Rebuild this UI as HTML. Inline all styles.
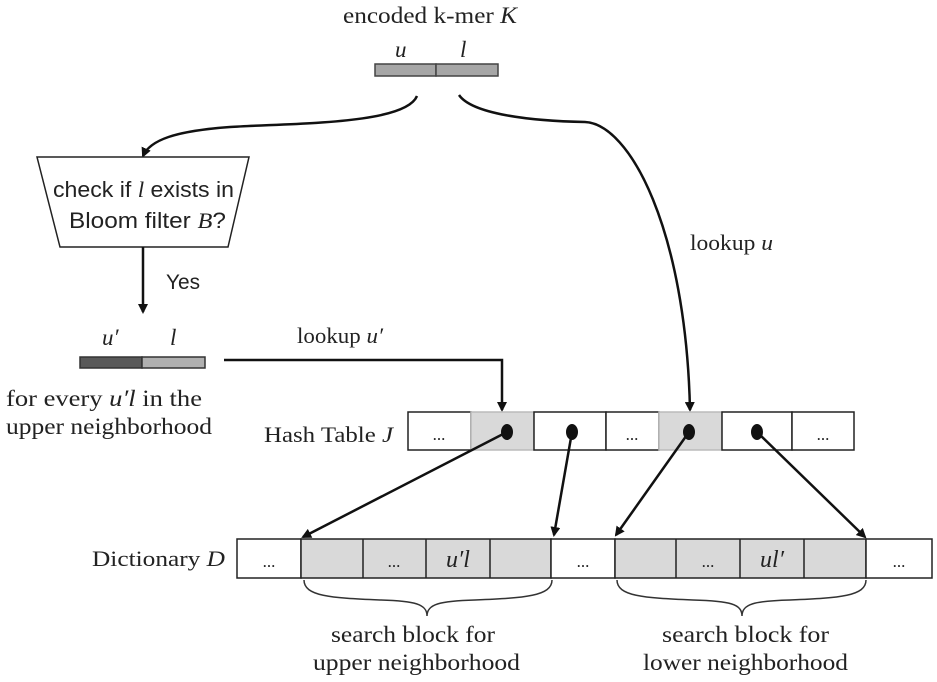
<!DOCTYPE html>
<html><head><meta charset="utf-8"><style>
html,body{margin:0;padding:0;background:#fff;}
svg{display:block;}
text{font-family:"Liberation Serif",serif;fill:#222;}
.s{font-family:"Liberation Sans",sans-serif;}
</style></head><body>
<svg width="937" height="682" viewBox="0 0 937 682" xmlns="http://www.w3.org/2000/svg">
<defs>
<marker id="a" markerWidth="10" markerHeight="10" refX="8" refY="5" orient="auto" markerUnits="userSpaceOnUse">
<path d="M0,0 L10,5 L0,10 Z" fill="#111"/></marker>
</defs>
<!-- top -->
<text x="343" y="23" font-size="23" textLength="174" lengthAdjust="spacingAndGlyphs">encoded k-mer <tspan font-style="italic">K</tspan></text>
<text x="395" y="57" font-size="23" font-style="italic">u</text>
<text x="460" y="57" font-size="23" font-style="italic">l</text>
<rect x="375" y="64" width="61" height="12" fill="#a6a6a6" stroke="#444" stroke-width="1.5"/>
<rect x="436" y="64" width="62" height="12" fill="#a6a6a6" stroke="#444" stroke-width="1.5"/>
<!-- left curve -->
<path d="M417,96 C405,125 290,123 230,127 C175,131 150,140 143,156" fill="none" stroke="#111" stroke-width="2.5" marker-end="url(#a)"/>
<!-- right curve -->
<path d="M459,95 C472,114 530,121 585,122 C630,124 686,230 690,410" fill="none" stroke="#111" stroke-width="2.5" marker-end="url(#a)"/>
<text x="690" y="250" font-size="22" textLength="83" lengthAdjust="spacingAndGlyphs">lookup <tspan font-style="italic">u</tspan></text>
<!-- trapezoid -->
<polygon points="37,157 249,157 228,247 60,247" fill="#fff" stroke="#222" stroke-width="1.5"/>
<text class="s" x="53" y="197" font-size="22" textLength="181" lengthAdjust="spacingAndGlyphs">check if <tspan font-family="Liberation Serif" font-style="italic">l</tspan> exists in</text>
<text class="s" x="69" y="228" font-size="22" textLength="157" lengthAdjust="spacingAndGlyphs">Bloom filter <tspan font-family="Liberation Serif" font-style="italic">B</tspan>?</text>
<line x1="143" y1="247" x2="143" y2="312" stroke="#111" stroke-width="2.5" marker-end="url(#a)"/>
<text class="s" x="166" y="289" font-size="21" textLength="34" lengthAdjust="spacingAndGlyphs">Yes</text>
<!-- second bar -->
<text x="102" y="345" font-size="23" font-style="italic">u′</text>
<text x="170" y="345" font-size="23" font-style="italic">l</text>
<rect x="80" y="357" width="62" height="11" fill="#595959" stroke="#333" stroke-width="1.5"/>
<rect x="142" y="357" width="63" height="11" fill="#b0b0b0" stroke="#333" stroke-width="1.5"/>
<text x="6" y="406" font-size="23" textLength="196" lengthAdjust="spacingAndGlyphs">for every <tspan font-style="italic">u′l</tspan> in the</text>
<text x="6" y="434" font-size="23" textLength="206" lengthAdjust="spacingAndGlyphs">upper neighborhood</text>
<path d="M224,360 L502,360 L502,410" fill="none" stroke="#111" stroke-width="2.5" marker-end="url(#a)"/>
<text x="297" y="343" font-size="22" textLength="86" lengthAdjust="spacingAndGlyphs">lookup <tspan font-style="italic">u′</tspan></text>
<!-- hash table -->
<text x="264" y="442" font-size="22" textLength="129" lengthAdjust="spacingAndGlyphs">Hash Table <tspan font-style="italic">J</tspan></text>
<g stroke="#222" stroke-width="1.5">
<rect x="408" y="412" width="63" height="38" fill="#fff"/>
<rect x="471" y="412" width="63" height="38" fill="#d9d9d9" stroke="#bbb"/>
<rect x="534" y="412" width="72" height="38" fill="#fff"/>
<rect x="606" y="412" width="53" height="38" fill="#fff"/>
<rect x="659" y="412" width="63" height="38" fill="#d9d9d9" stroke="#bbb"/>
<rect x="722" y="412" width="70" height="38" fill="#fff"/>
<rect x="792" y="412" width="62" height="38" fill="#fff"/>
</g>
<text x="439" y="440" font-size="17" text-anchor="middle">...</text>
<text x="632" y="440" font-size="17" text-anchor="middle">...</text>
<text x="823" y="440" font-size="17" text-anchor="middle">...</text>
<g fill="#111">
<ellipse cx="507" cy="432" rx="6" ry="8"/>
<ellipse cx="572" cy="432" rx="6" ry="8"/>
<ellipse cx="689" cy="432" rx="6" ry="8"/>
<ellipse cx="757" cy="432" rx="6" ry="8"/>
</g>
<g stroke="#111" stroke-width="2.5" marker-end="url(#a)">
<line x1="507" y1="432" x2="303" y2="537"/>
<line x1="572" y1="432" x2="554" y2="535"/>
<line x1="689" y1="432" x2="616" y2="535"/>
<line x1="757" y1="432" x2="865" y2="537"/>
</g>
<!-- dictionary -->
<text x="92" y="566" font-size="22" textLength="133" lengthAdjust="spacingAndGlyphs">Dictionary <tspan font-style="italic">D</tspan></text>
<g stroke="#222" stroke-width="1.5">
<rect x="237" y="539" width="64" height="39" fill="#fff"/>
<rect x="301" y="539" width="250" height="39" fill="#d9d9d9"/>
<line x1="363" y1="539" x2="363" y2="578"/>
<line x1="426" y1="539" x2="426" y2="578"/>
<line x1="490" y1="539" x2="490" y2="578"/>
<rect x="551" y="539" width="64" height="39" fill="#fff"/>
<rect x="615" y="539" width="251" height="39" fill="#d9d9d9"/>
<line x1="676" y1="539" x2="676" y2="578"/>
<line x1="740" y1="539" x2="740" y2="578"/>
<line x1="804" y1="539" x2="804" y2="578"/>
<rect x="866" y="539" width="66" height="39" fill="#fff"/>
</g>
<text x="269" y="567" font-size="17" text-anchor="middle">...</text>
<text x="394" y="567" font-size="17" text-anchor="middle">...</text>
<text x="583" y="567" font-size="17" text-anchor="middle">...</text>
<text x="708" y="567" font-size="17" text-anchor="middle">...</text>
<text x="899" y="567" font-size="17" text-anchor="middle">...</text>
<text x="458" y="567" font-size="24" font-style="italic" text-anchor="middle" fill="#555">u′l</text>
<text x="772" y="567" font-size="24" font-style="italic" text-anchor="middle" fill="#555">ul′</text>
<!-- braces -->
<g fill="none" stroke="#333" stroke-width="1.5">
<path d="M304,580 C304,596 330,598 380,600 C415,601 427,604 427,616 C427,604 440,601 475,600 C525,598 552,596 552,580"/>
<path d="M617,580 C617,596 643,598 693,600 C730,601 742,604 742,616 C742,604 754,601 790,600 C840,598 866,596 866,580"/>
</g>
<text x="331" y="642" font-size="23" textLength="164" lengthAdjust="spacingAndGlyphs">search block for</text>
<text x="313" y="670" font-size="23" textLength="207" lengthAdjust="spacingAndGlyphs">upper neighborhood</text>
<text x="662" y="642" font-size="23" textLength="167" lengthAdjust="spacingAndGlyphs">search block for</text>
<text x="643" y="670" font-size="23" textLength="205" lengthAdjust="spacingAndGlyphs">lower neighborhood</text>
</svg>
</body></html>
